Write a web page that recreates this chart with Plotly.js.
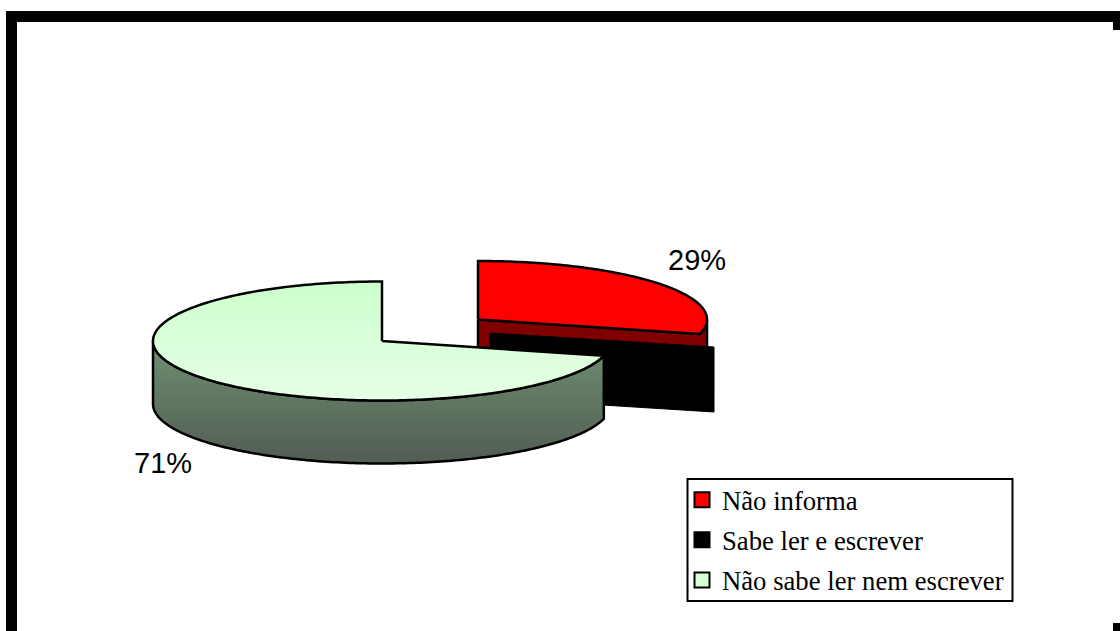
<!DOCTYPE html>
<html>
<head>
<meta charset="utf-8">
<script src="https://cdn.plot.ly/plotly-3.0.1.min.js"></script>
<style>html,body{margin:0;padding:0;background:#fff}#chart{width:1120px;height:631px}</style>
</head>
<body>
<div id="chart"></div>
<script>
// Data
const categories = ['Não informa', 'Sabe ler e escrever', 'Não sabe ler nem escrever'];
const values = [29, 0, 71];

// Drawing geometry of the pseudo-3D pie (pixel space of the axes)
const W = 1120, H = 631;
const redGeom = {cx: 478, cy: 319.5, rx: 229, ry: 58.5, depth: 65};
const blackGeom = {cx: 490, cy: 333, rx: 231.3, ry: 56.3, depth: 65};
const greenGeom = {cx: 382, cy: 341, rx: 229, ry: 59.5, depth: 63};

const total = values.reduce((a, b) => a + b, 0);
const cutDeg = (values[0] + values[1]) / total * 360; // clockwise from 12 o'clock

function pt(g, deg, dz) {
  const a = deg * Math.PI / 180;
  return [g.cx + g.rx * Math.sin(a), g.cy - g.ry * Math.cos(a) + (dz || 0)];
}
function arc(g, from, to, dz) {
  const n = Math.max(2, Math.ceil(Math.abs(to - from)));
  const out = [];
  for (let i = 0; i <= n; i++) out.push(pt(g, from + (to - from) * i / n, dz));
  return out;
}
function poly(points, extra) {
  const xs = points.map(p => p[0]), ys = points.map(p => p[1]);
  xs.push(xs[0]); ys.push(ys[0]);
  return Object.assign({
    x: xs, y: ys, mode: 'lines', fill: 'toself',
    line: {color: '#000', width: 2.5, simplify: false},
    hoverinfo: 'skip', showlegend: false
  }, extra);
}
function grad(c0, c1) {
  return {type: 'vertical', colorscale: [[0, c0], [1, c1]]};
}

const center = (g, dz) => [g.cx, g.cy + (dz || 0)];

// red slice: wall then top
const redWall = poly(
  [center(redGeom)].concat(arc(redGeom, cutDeg, 90), arc(redGeom, 90, cutDeg, redGeom.depth), [center(redGeom, redGeom.depth)]),
  {fillcolor: '#800000'});
// zero-share black slice: only its radial wall shows
const blackWall = poly(
  [center(blackGeom), pt(blackGeom, cutDeg), pt(blackGeom, cutDeg, blackGeom.depth), center(blackGeom, blackGeom.depth)],
  {fillcolor: '#000', line: {color: '#000', width: 1}});
const redTop = poly(
  [center(redGeom)].concat(arc(redGeom, 0, cutDeg)),
  {fillcolor: '#ff0000'});
// green slice: wall then top
const greenWall = poly(
  arc(greenGeom, cutDeg, 270).concat(arc(greenGeom, 270, cutDeg, greenGeom.depth)),
  {fillgradient: grad('#525c54', '#6f8f70')});
const greenTop = poly(
  [center(greenGeom)].concat(arc(greenGeom, cutDeg, 360)),
  {fillgradient: grad('#e6ffe6', '#ccffcc')});

// legend entries
const legendColors = ['#ff0000', '#000000', '#d6ffd6'];
const legendTraces = categories.map((name, i) => ({
  x: [null], y: [null], mode: 'markers', name: name,
  legendgroup: 'g' + i, showlegend: true, hoverinfo: 'skip',
  marker: {symbol: 'square', size: 15, color: legendColors[i], line: {color: '#000', width: 2}}
}));

function frame(x0, y0, x1, y1) {
  return {type: 'rect', xref: 'x', yref: 'y', x0, y0, x1, y1, fillcolor: '#000', line: {width: 0}, layer: 'below'};
}
const pctFont = {family: 'Liberation Sans, Arial, sans-serif', size: 29, color: '#000'};
const pct = v => Math.round(v / total * 100) + '%';

Plotly.newPlot('chart',
  [redWall, blackWall, redTop, greenWall, greenTop].concat(legendTraces),
  {
    width: W, height: H,
    margin: {l: 0, r: 0, t: 0, b: 0, pad: 0},
    paper_bgcolor: '#fff', plot_bgcolor: '#fff',
    xaxis: {range: [0, W], visible: false, fixedrange: true},
    yaxis: {range: [H, 0], visible: false, fixedrange: true},
    shapes: [
      frame(6, 11, 17, H), frame(6, 11, W, 22), frame(1113, 11, W, 30), frame(1113, 623, W, H),
      {type: 'rect', xref: 'x', yref: 'y', x0: 687.5, y0: 479, x1: 1012.5, y1: 601, fillcolor: '#fff', line: {color: '#000', width: 2}, layer: 'below'}
    ],
    annotations: [
      {x: 697, y: 260, text: pct(values[0]), showarrow: false, font: pctFont},
      {x: 163, y: 463, text: pct(values[2]), showarrow: false, font: pctFont}
    ],
    legend: {
      x: 682 / W, y: 1 - 476 / H, xanchor: 'left', yanchor: 'top',
      bgcolor: 'rgba(0,0,0,0)', borderwidth: 0,
      font: {family: 'Liberation Serif, Times New Roman, serif', size: 26.7, color: '#000'},
      tracegroupgap: 2.3, traceorder: 'grouped'
    }
  },
  {displayModeBar: false, staticPlot: true});
</script>
</body>
</html>
